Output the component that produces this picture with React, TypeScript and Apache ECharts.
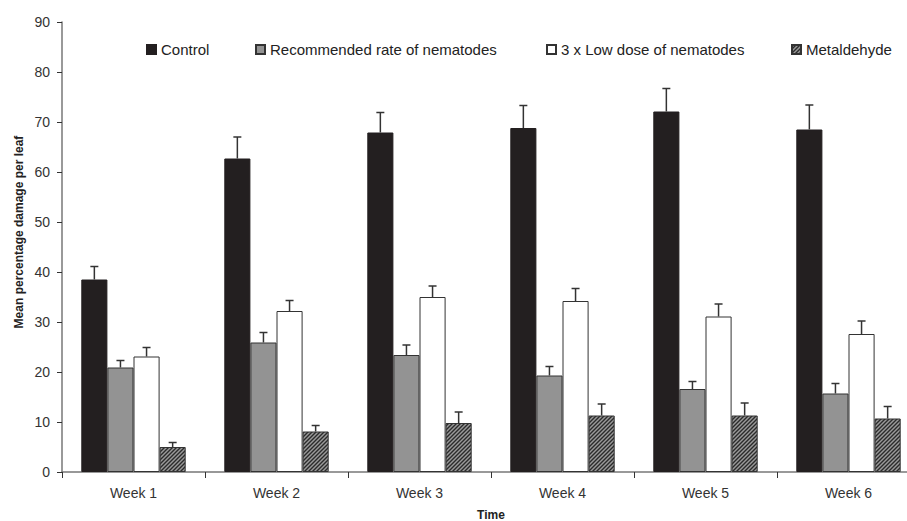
import React, { useEffect, useRef } from "react";
import * as echarts from "echarts";

const categories = ["Week 1", "Week 2", "Week 3", "Week 4", "Week 5", "Week 6"];
const seriesNames = ["Control", "Recommended rate of nematodes", "3 x Low dose of nematodes", "Metaldehyde"];
const controlValues = [38.5, 62.7, 67.9, 68.8, 72.1, 68.5];
const recommendedValues = [20.9, 25.9, 23.4, 19.3, 16.6, 15.7];
const lowDoseValues = [23.1, 32.2, 35.0, 34.2, 31.1, 27.6];
const metaldehydeValues = [5.0, 8.1, 9.8, 11.3, 11.3, 10.7];
const controlErr = [2.6, 4.3, 4.0, 4.5, 4.6, 4.9];
const recommendedErr = [1.4, 2.0, 2.0, 1.8, 1.5, 2.0];
const lowDoseErr = [1.8, 2.1, 2.2, 2.5, 2.5, 2.6];
const metaldehydeErr = [0.9, 1.2, 2.2, 2.3, 2.5, 2.4];
const yTicks = [0, 10, 20, 30, 40, 50, 60, 70, 80, 90];

const FONT = "'Liberation Sans', Arial, sans-serif";
const GAP = 0.27;

const hatchSvg =
  "<svg xmlns='http://www.w3.org/2000/svg' width='4' height='4'>" +
  "<rect width='4' height='4' fill='#9a9a9a'/>" +
  "<path d='M0,4 L4,0 M-1,1 L1,-1 M3,5 L5,3' stroke='#2b2b2b' stroke-width='1.4'/>" +
  "</svg>";
const hatchUrl = "data:image/svg+xml;charset=utf-8," + encodeURIComponent(hatchSvg);

export default function App() {
  const ref = useRef<HTMLDivElement>(null);
  useEffect(() => {
    if (!ref.current) return;
    const chart = echarts.init(ref.current, null, { renderer: "svg" });
    const values = [controlValues, recommendedValues, lowDoseValues, metaldehydeValues];
    const errs = [controlErr, recommendedErr, lowDoseErr, metaldehydeErr];
    const errData: number[][] = [];
    values.forEach((arr, s) => arr.forEach((v, c) => errData.push([c, s, v, v + errs[s][c]])));

    const styles = [
      { color: "#231f20", borderColor: "#231f20", borderWidth: 1 },
      { color: "#939393", borderColor: "#333", borderWidth: 1 },
      { color: "#ffffff", borderColor: "#333", borderWidth: 1 },
      {
        color: { image: hatchUrl, repeat: "repeat" },
        borderColor: "#333",
        borderWidth: 1,
      },
    ];

    const legendLefts = [146, 255, 546, 791];

    chart.setOption({
      animation: false,
      grid: { left: 62, top: 22, bottom: 49, width: 858, outerBoundsMode: "none", containLabel: false },
      legend: seriesNames.map((n, i) => ({
        data: [n],
        left: legendLefts[i],
        top: 42,
        padding: 0,
        itemWidth: 9,
        itemHeight: 9,
        icon: "rect",
        itemGap: 5,
        textStyle: { fontFamily: FONT, fontSize: 15, color: "#222" },
      })),
      xAxis: {
        type: "category",
        data: categories,
        name: "Time",
        nameLocation: "middle",
        nameGap: 37,
        nameTextStyle: { fontFamily: FONT, fontSize: 12, fontWeight: "bold", color: "#222" },
        axisLine: { lineStyle: { color: "#777", width: 1.5 } },
        axisTick: { show: true, length: 6, lineStyle: { color: "#333" } },
        axisLabel: { fontFamily: FONT, fontSize: 14, color: "#333", margin: 14 },
      },
      yAxis: {
        type: "value",
        min: 0,
        max: 90,
        interval: 10,
        axisLine: { show: true, lineStyle: { color: "#777", width: 1.5 } },
        axisTick: { show: true, length: 5, lineStyle: { color: "#333" } },
        splitLine: { show: false },
        axisLabel: {
          fontFamily: FONT,
          fontSize: 14,
          color: "#333",
          margin: 12,
          formatter: (v: number) => (yTicks.includes(v) ? String(v) : ""),
        },
      },
      graphic: [
        {
          type: "text",
          x: 19,
          y: 232,
          rotation: Math.PI / 2,
          style: {
            text: "Mean percentage damage per leaf",
            fontFamily: FONT,
            fontSize: 12,
            fontWeight: "bold",
            fill: "#222",
            textAlign: "center",
            textVerticalAlign: "middle",
          },
        },
      ],
      series: [
        ...values.map((arr, i) => ({
          name: seriesNames[i],
          type: "bar",
          data: arr,
          barGap: "0%",
          barCategoryGap: GAP * 100 + "%",
          itemStyle: styles[i],
        })),
        {
          type: "custom",
          data: errData,
          z: 10,
          renderItem: (params: any, api: any) => {
            const c = api.value(0);
            const s = api.value(1);
            const v = api.value(2);
            const top = api.value(3);
            const catW = api.size([1, 0])[0];
            const bw = (catW * (1 - GAP)) / 4;
            const base = api.coord([c, v]);
            const tp = api.coord([c, top]);
            const x = base[0] + (s - 1.5) * bw;
            const cap = 4;
            return {
              type: "group",
              children: [
                { type: "line", shape: { x1: x, y1: base[1], x2: x, y2: tp[1] }, style: { stroke: "#333", lineWidth: 1.5 } },
                { type: "line", shape: { x1: x - cap, y1: tp[1], x2: x + cap, y2: tp[1] }, style: { stroke: "#333", lineWidth: 1.5 } },
              ],
            };
          },
        },
      ],
    });
    return () => chart.dispose();
  }, []);
  return <div ref={ref} style={{ width: 907, height: 521, position: "absolute", left: 0, top: 0 }} />;
}
